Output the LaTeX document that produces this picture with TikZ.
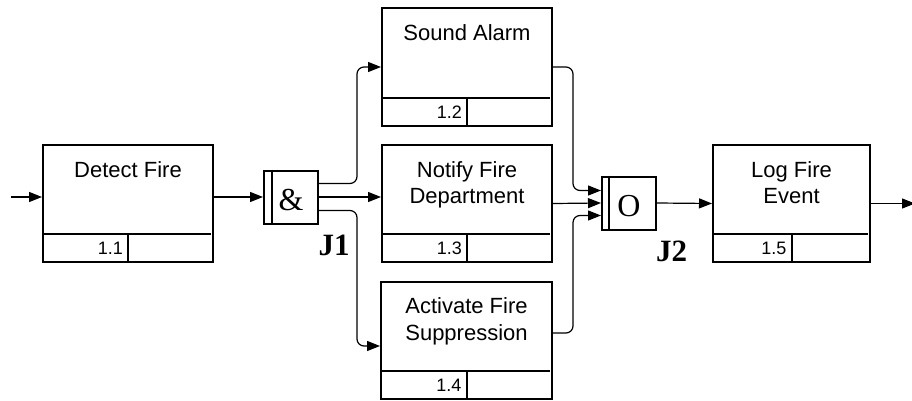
\documentclass[tikz,border=0pt]{standalone}
\usepackage{fontspec}
\setmainfont{Liberation Sans}
\newfontfamily\jnfont{Liberation Serif}
\usetikzlibrary{arrows.meta}

\begin{document}
\begin{tikzpicture}[x=1pt,y=1pt,
    act/.style={draw,line width=2pt,minimum height=117pt,inner sep=0pt},
    acttext/.style={anchor=north,align=center,inner sep=0pt,font=\fontsize{22}{26.5}\selectfont},
    boxnum/.style={anchor=east,inner sep=0pt,font=\fontsize{18}{18}\selectfont},
    jbox/.style={draw,line width=2pt,minimum width=54pt,minimum height=53pt,inner sep=0pt,font=\jnfont\fontsize{32}{32}\selectfont},
    jlabel/.style={inner sep=0pt,font=\jnfont\bfseries\fontsize{31}{31}\selectfont},
    conn/.style={line width=1.2pt,-{Triangle[length=13pt,width=10pt]}},
  ]
    \useasboundingbox (0,0) rectangle (912,400);
    \node[act,minimum width=170pt] (detect) at (128,196.5) {};
    \node[act,minimum width=170pt] (alarm) at (467,333) {};
    \node[act,minimum width=170pt] (notify) at (467,196.5) {};
    \node[act,minimum width=171pt] (suppress) at (466.5,60) {};
    \node[act,minimum width=157pt] (logev) at (791.5,196.5) {};
    \node[acttext] (tdetect) at ([yshift=-17pt]detect.north) {Detect Fire};
    \node[acttext] (talarm) at ([yshift=-17pt]alarm.north) {Sound Alarm};
    \node[acttext] (tnotify) at ([yshift=-17pt]notify.north) {Notify Fire\\Department};
    \node[acttext] (tsuppress) at ([yshift=-17pt]suppress.north) {Activate Fire\\Suppression};
    \node[acttext] (tlogev) at ([yshift=-17pt]logev.north) {Log Fire\\Event};
    \foreach \bx/\nr in {detect/1.1,alarm/1.2,notify/1.3,suppress/1.4,logev/1.5}{
      \draw[line width=2pt] ([yshift=29pt]\bx.south west) -- ([xshift=-3pt,yshift=29pt]\bx.south east);
      \draw[line width=2pt] ([yshift=29pt]\bx.south) -- (\bx.south);
      \node[boxnum] (n\bx) at ([xshift=-5pt,yshift=14.5pt]\bx.south) {\nr};
    }

    \node[jbox] (j1) at (291,203) {\raisebox{-3pt}[\height][\depth]{\&}};
    \node[jbox] (j2) at (629,197) {\raisebox{-3pt}[\height][\depth]{O}};
    \draw[line width=2pt] ([xshift=9pt]j1.north west) -- ([xshift=9pt]j1.south west);
    \draw[line width=2pt] ([xshift=8pt]j2.north west) -- ([xshift=8pt]j2.south west);
    \node[jlabel] (lj1) at (334,155) {J1};
    \node[jlabel] (lj2) at (671.5,149) {J2};

    \coordinate (start) at (11,203);
    \coordinate (stop) at (915,196.5);
    \draw[conn] (start) -- (start -| detect.west);
    \draw[conn] ([yshift=6.5pt]detect.east) -- (j1.west);
    \draw[conn,rounded corners=7pt] ([yshift=13.5pt]j1.east) -- ++(38,0) |- (alarm.west);
    \draw[conn] (j1.east) -- (j1.east -| notify.west);
    \draw[conn,rounded corners=7pt] ([yshift=-13.5pt]j1.east) -- ++(38,0) |- ([yshift=-6pt]suppress.west);
    \draw[conn,rounded corners=7pt] (alarm.east) -- ++(20,0) |- ([yshift=12.5pt]j2.west);
    \draw[conn] (notify.east) -- (j2.west);
    \draw[conn,rounded corners=7pt] ([yshift=7pt]suppress.east) -- ++(20,0) |- ([yshift=-12.5pt]j2.west);
    \draw[conn] (j2.east) -- (logev.west);
    \draw[conn] (logev.east) -- (stop);
\end{tikzpicture}
\end{document}
